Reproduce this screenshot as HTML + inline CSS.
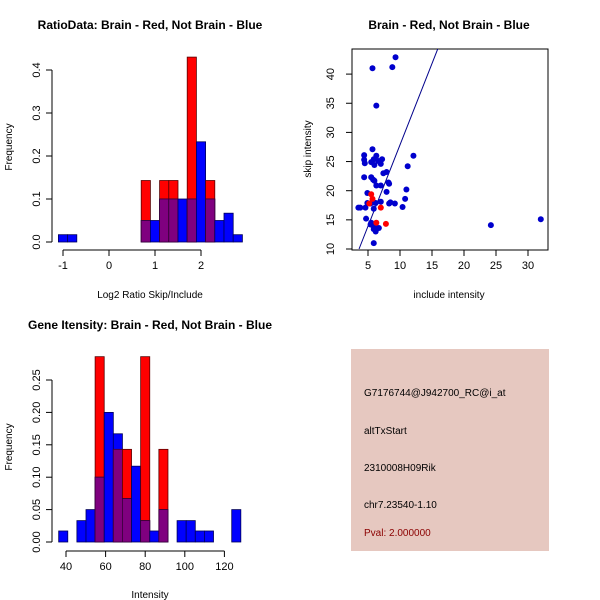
<!DOCTYPE html>
<html><head><meta charset="utf-8"><style>
body{margin:0;background:#fff;}
svg{display:block;font-family:"Liberation Sans",Arial,sans-serif;}
</style></head><body>
<svg id="chart" width="600" height="600" viewBox="0 0 600 600">
<rect x="0" y="0" width="600" height="600" fill="#fff"/>
</svg>
<script>
// ---- Ratio histogram data ----
const ratioEdgesStart = -1.1;
const ratioBinWidth = 0.2;
const ratioRed  = [0,0,0,0,0,0,0,0,0,0.143,0,0.143,0.143,0,0.43,0,0.143,0,0,0];
const ratioBlue = [0.017,0.017,0,0,0,0,0,0,0,0.05,0.05,0.1,0.1,0.1,0.1,0.233,0.1,0.05,0.067,0.017];
const ratioXTicks = [-1,0,1,2];
const ratioYTicks = [0,0.1,0.2,0.3,0.4];
// ---- Intensity histogram data ----
const intEdgesStart = 36.3;
const intBinWidth = 4.6;
const intRed  = [0,0,0,0,0.286,0,0.143,0.143,0,0.286,0,0.143,0,0,0,0,0,0,0,0];
const intBlue = [0.017,0,0.033,0.05,0.1,0.2,0.167,0.067,0.117,0.033,0.017,0.05,0,0.033,0.033,0.017,0.017,0,0,0.05];
const intXTicks = [40,60,80,100,120];
const intYTicks = [0,0.05,0.10,0.15,0.20,0.25];
// ---- Scatter data ----
const blueX = [9.3,5.7,8.8,6.3,5.7,4.4,4.4,4.5,6.3,5.9,7.2,5.5,6.0,7.0,6.6,12.1,11.2,7.4,7.9,4.4,5.5,5.8,6.0,6.3,7.0,8.2,8.3,11.0,7.9,4.9,10.8,3.5,3.8,4.6,4.9,5.4,5.9,6.2,7.0,8.3,8.5,9.2,10.4,5.9,4.7,5.5,5.7,6.2,6.7,6.2,5.9,5.4,5.9,24.2,32.0];
const blueY = [42.9,41.0,41.2,34.6,27.1,26.1,25.3,24.7,26.0,25.4,25.4,24.9,24.4,24.6,25.1,26.0,24.2,23.0,23.2,22.3,22.3,21.9,21.7,20.9,20.9,21.4,21.2,20.2,19.8,19.6,18.6,17.1,17.1,17.1,17.9,17.8,18.0,17.9,18.1,17.8,18.0,17.8,17.2,16.9,15.2,14.5,14.1,13.8,13.6,13.0,13.4,14.2,11.0,14.1,15.1];
const redX = [5.5,5.7,5.2,7.0,6.3,7.8];
const redY = [19.4,18.6,17.8,17.1,14.5,14.3];
const scXTicks = [5,10,15,20,25,30];
const scYTicks = [10,15,20,25,30,35,40];
const fitSlope = 2.79, fitIntercept = -0.04;

const NS="http://www.w3.org/2000/svg";
const svg=document.getElementById('chart');
function mk(tag,attrs,parent){const e=document.createElementNS(NS,tag);for(const k in attrs)e.setAttribute(k,attrs[k]);(parent||svg).appendChild(e);return e;}
function txt(s,x,y,opts,parent){const t=mk('text',Object.assign({x:x,y:y,'font-size':11,fill:'#000','text-anchor':'middle'},opts||{}),parent);t.textContent=s;return t;}

function hist(g,red,blue,start,bw,sx,sy){
  for(let i=0;i<red.length;i++){
    const x0=sx(start+i*bw),x1=sx(start+(i+1)*bw);
    if(red[i]>0){const r=mk('rect',{x:x0,y:sy(red[i]),width:x1-x0,height:sy(0)-sy(red[i]),fill:'#ff0000',stroke:'#5a0000','stroke-width':0.8},g);
      
      }
    if(blue[i]>0){const b=mk('rect',{x:x0,y:sy(blue[i]),width:x1-x0,height:sy(0)-sy(blue[i]),fill:'#0000ff',stroke:'#00005a','stroke-width':0.8},g);
      
      }
    const m=Math.min(red[i],blue[i]);
    if(m>0){const p=mk('rect',{x:x0,y:sy(m),width:x1-x0,height:sy(0)-sy(m),fill:'#7f007f',stroke:'#3a003a','stroke-width':0.8},g);
      
      }
  }
}
function yAxis(g,ticks,x,sy,fmt){
  mk('line',{x1:x,x2:x,y1:sy(ticks[0]),y2:sy(ticks[ticks.length-1]),stroke:'#000'},g);
  ticks.forEach(v=>{const y=sy(v);mk('line',{x1:x-6,x2:x,y1:y,y2:y,stroke:'#000'},g);
    const t=txt(fmt(v),0,0,{transform:'translate('+(x-12)+','+y+') rotate(-90)'},g);
    
    });
}
function xAxis(g,ticks,y,sx,fmt){
  mk('line',{x1:sx(ticks[0]),x2:sx(ticks[ticks.length-1]),y1:y,y2:y,stroke:'#000'},g);
  ticks.forEach(v=>{const x=sx(v);mk('line',{x1:x,x2:x,y1:y,y2:y+6,stroke:'#000'},g);
    const t=txt(fmt(v),x,y+19,{},g);
    
    });
}

// Panel 1
{const g=mk('g',{});


const sx=v=>109+v*46, sy=v=>242-v*430;
hist(g,ratioRed,ratioBlue,ratioEdgesStart,ratioBinWidth,sx,sy);
yAxis(g,ratioYTicks,52,sy,v=>v.toFixed(1));
xAxis(g,ratioXTicks,250,sx,v=>String(v));
const t=txt('RatioData: Brain - Red, Not Brain - Blue',150,29,{'font-weight':'bold','font-size':12},g);

const xl=txt('Log2 Ratio Skip/Include',150,298,{'font-size':10},g);

const yl=txt('Frequency',0,0,{'font-size':10,transform:'translate(12,147) rotate(-90)'},g);
}

// Panel 3
{const g=mk('g',{});


const sx=v=>66+(v-40)*1.98, sy=v=>542-v*648;
hist(g,intRed,intBlue,intEdgesStart,intBinWidth,sx,sy);
yAxis(g,intYTicks,52,sy,v=>v.toFixed(2));
xAxis(g,intXTicks,551,sx,v=>String(v));
const t=txt('Gene Itensity: Brain - Red, Not Brain - Blue',150,329,{'font-weight':'bold','font-size':12},g);

const xl=txt('Intensity',150,598,{'font-size':10},g);

const yl=txt('Frequency',0,0,{'font-size':10,transform:'translate(12,447) rotate(-90)'},g);
}

// Panel 2 scatter
{const g=mk('g',{});


const sx=v=>336+v*6.4, sy=v=>249-(v-10)*5.83;
const cp=mk('clipPath',{id:'scclip'},g);mk('rect',{x:352,y:49,width:196,height:201},cp);
mk('rect',{x:352,y:49,width:196,height:201,fill:'none',stroke:'#000'},g);
scYTicks.forEach(v=>{const y=sy(v);mk('line',{x1:346,x2:352,y1:y,y2:y,stroke:'#000'},g);
  const t=txt(String(v),0,0,{transform:'translate(334,'+y+') rotate(-90)'},g);
  });
scXTicks.forEach(v=>{const x=sx(v);mk('line',{x1:x,x2:x,y1:250,y2:256,stroke:'#000'},g);
  const t=txt(String(v),x,269,{},g);
  });
const fx0=(10-fitIntercept)/fitSlope, fx1=(45-fitIntercept)/fitSlope;
const ln=mk('line',{x1:sx(fx0),y1:sy(10),x2:sx(fx1),y2:sy(45),stroke:'#00008b','stroke-width':1,'clip-path':'url(#scclip)'},g);

blueX.forEach((v,i)=>{const c=mk('circle',{cx:sx(v),cy:sy(blueY[i]),r:3,fill:'#0000cd'},g);
  
  });
redX.forEach((v,i)=>{const c=mk('circle',{cx:sx(v),cy:sy(redY[i]),r:3,fill:'#ff0000'},g);
  
  });
const t=txt('Brain - Red, Not Brain - Blue',449,29,{'font-weight':'bold','font-size':12},g);

const xl=txt('include intensity',449,298,{'font-size':10},g);

const yl=txt('skip intensity',0,0,{'font-size':10,transform:'translate(311,149) rotate(-90)'},g);
}

// Info panel
{const g=mk('g',{});


mk('rect',{x:351,y:349,width:198,height:202,fill:'#e6c8c0'},g);
const lines=[['G7176744@J942700_RC@i_at',396,'#000'],['altTxStart',434,'#000'],['2310008H09Rik',471,'#000'],['chr7.23540-1.10',508,'#000'],['Pval: 2.000000',536,'#8b0000']];
lines.forEach(l=>{const t=txt(l[0],364,l[1],{'text-anchor':'start','font-size':10,fill:l[2]},g);
  
  });}
</script>
</body></html>
